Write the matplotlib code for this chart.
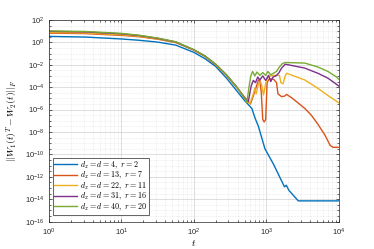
import numpy as np
import matplotlib
matplotlib.use("Agg")
import matplotlib.pyplot as plt
from matplotlib.ticker import LogLocator, NullFormatter

plt.rcParams['font.family'] = ['Liberation Sans', 'DejaVu Sans']
plt.rcParams['mathtext.fontset'] = 'cm'

# log10(t) and log10(value)
blue_lt = [0, 0.5, 1.0, 1.25, 1.5, 1.75, 2.0, 2.15, 2.3, 2.45, 2.6, 2.7, 2.8, 2.84, 2.89, 2.98, 3.1, 3.25, 3.275, 3.31, 3.44, 4.0]
blue_lv = [0.53, 0.47, 0.3, 0.18, 0.02, -0.25, -0.9, -1.45, -2.15, -3.2, -4.4, -5.2, -5.9, -6.7, -7.5, -9.5, -10.9, -12.9, -12.75, -13.2, -14.15, -14.15]

orange_lt = [0, 0.5, 1.0, 1.25, 1.5, 1.75, 2.0, 2.15, 2.3, 2.45, 2.6, 2.7, 2.78, 2.84, 2.89, 2.91, 2.93, 2.95, 2.97, 2.99, 3.01, 3.04, 3.10, 3.14, 3.16, 3.21, 3.25, 3.28, 3.36, 3.53, 3.62, 3.71, 3.81, 3.88, 3.92, 4.0]
orange_lv = [0.82, 0.78, 0.62, 0.5, 0.28, -0.02, -0.7, -1.25, -2.0, -2.95, -4.1, -4.9, -5.5, -4.4, -3.36, -3.4, -4.5, -6.9, -7.1, -6.9, -3.6, -3.25, -3.3, -3.6, -4.6, -4.85, -4.8, -4.65, -5.0, -5.9, -6.5, -7.3, -8.3, -9.2, -9.37, -9.37]

yellow_lt = [0, 0.5, 1.0, 1.25, 1.5, 1.75, 2.0, 2.15, 2.3, 2.45, 2.6, 2.7, 2.77, 2.82, 2.84, 2.86, 2.89, 2.93, 2.96, 2.99, 3.02, 3.10, 3.18, 3.20, 3.23, 3.26, 3.28, 3.53, 3.71, 3.85, 4.0]
yellow_lv = [0.88, 0.84, 0.68, 0.54, 0.32, 0.0, -0.68, -1.22, -1.97, -2.92, -4.07, -4.95, -5.5, -4.6, -4.1, -4.6, -3.7, -3.65, -4.7, -3.7, -3.05, -2.95, -2.95, -3.6, -3.7, -3.0, -2.76, -3.36, -4.1, -4.75, -5.4]

purple_lt = [0, 0.5, 1.0, 1.25, 1.5, 1.75, 2.0, 2.15, 2.3, 2.45, 2.6, 2.7, 2.75, 2.79, 2.82, 2.85, 2.88, 2.91, 2.95, 2.99, 3.03, 3.06, 3.09, 3.13, 3.17, 3.21, 3.26, 3.53, 3.71, 3.85, 4.0]
purple_lv = [0.98, 0.93, 0.76, 0.6, 0.36, 0.03, -0.67, -1.21, -1.96, -2.91, -4.06, -4.97, -5.3, -3.9, -3.4, -3.6, -3.1, -3.35, -3.0, -3.4, -2.95, -3.5, -3.1, -3.0, -2.75, -2.3, -1.95, -2.3, -2.76, -3.2, -3.9]

green_lt = [0, 0.5, 1.0, 1.25, 1.5, 1.75, 2.0, 2.15, 2.3, 2.45, 2.6, 2.7, 2.73, 2.76, 2.785, 2.81, 2.84, 2.87, 2.91, 2.95, 2.99, 3.02, 3.06, 3.10, 3.14, 3.18, 3.22, 3.26, 3.53, 3.71, 3.85, 3.97, 4.0]
green_lv = [1.02, 0.97, 0.8, 0.63, 0.38, 0.05, -0.66, -1.2, -1.95, -2.9, -4.05, -5.0, -5.38, -4.0, -3.0, -2.6, -3.0, -2.65, -2.95, -2.7, -2.95, -2.6, -2.9, -2.75, -2.6, -2.2, -1.9, -1.8, -1.85, -2.2, -2.6, -3.1, -3.3]

labels = [r'$d_x = d = 4,\ r = 2$', r'$d_x = d = 13,\ r = 7$', r'$d_x = d = 22,\ r = 11$',
          r'$d_x = d = 31,\ r = 16$', r'$d_x = d = 40,\ r = 20$']
colors = ['#0072BD', '#D95319', '#EDB120', '#7E2F8E', '#77AC30']

series = [(blue_lt, blue_lv), (orange_lt, orange_lv), (yellow_lt, yellow_lv),
          (purple_lt, purple_lv), (green_lt, green_lv)]

fig = plt.figure(figsize=(3.74, 2.49), dpi=100)
ax = fig.add_axes([0.131, 0.110, 0.775, 0.810])

for (lt, lv), c, lab in zip(series, colors, labels):
    ax.plot(10.0 ** np.array(lt), 10.0 ** np.array(lv), color=c, lw=1.0, label=lab)

ax.set_xscale('log')
ax.set_yscale('log')
ax.set_xlim(1, 1e4)
ax.set_ylim(1e-16, 1e2)
ax.set_yticks([10.0 ** k for k in range(-16, 3, 2)])
ax.yaxis.set_minor_locator(LogLocator(base=10, subs=(1.0, 3.16), numticks=100))
ax.yaxis.set_minor_formatter(NullFormatter())
ax.xaxis.set_minor_locator(LogLocator(base=10, subs=np.arange(2, 10), numticks=100))
ax.xaxis.set_minor_formatter(NullFormatter())

ax.grid(True, which='major', color='#d0d0d0', lw=0.5, ls='-')
ax.grid(True, which='minor', color='#d8d8d8', lw=0.4, ls=':')
ax.set_axisbelow(True)

ax.tick_params(which='both', direction='in', top=True, right=True, labelsize=5.5,
               colors='#262626', width=0.5)
ax.tick_params(which='major', length=2.5)
ax.tick_params(which='minor', length=1.2)
for s in ax.spines.values():
    s.set_linewidth(0.5)
    s.set_color('#262626')

ax.set_xlabel(r'$t$', fontsize=7, labelpad=0)
ax.set_ylabel(r'$||W_1(t)^T - W_2(t)||_F$', fontsize=7, labelpad=3)

leg = ax.legend(loc='lower left', fontsize=5.8, frameon=True, fancybox=False,
                edgecolor='#262626', framealpha=1, borderpad=0.2, labelspacing=-0.12,
                handlelength=2.8, handletextpad=0.4, borderaxespad=0,
                bbox_to_anchor=(0.013, 0.035))
leg.get_frame().set_linewidth(0.5)

fig.savefig('out.png', dpi=100)
